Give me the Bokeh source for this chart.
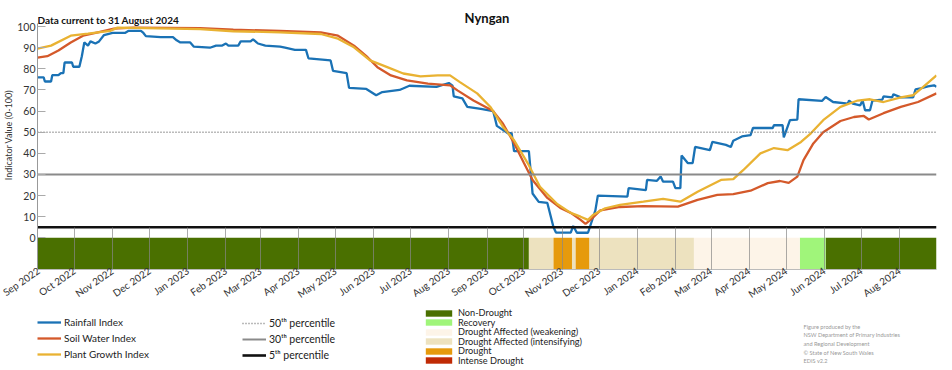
import pandas as pd
from bokeh.plotting import figure
from bokeh.layouts import column
from bokeh.models import (ColumnDataSource, Legend, LegendItem, Label, FixedTicker,
                          MonthsTicker, DatetimeTickFormatter, Range1d)
from bokeh.embed import file_html
from bokeh.resources import INLINE

FONT = "Lato"

# ---------------- data ----------------
rain_dates = [
    "2022-09-01", "2022-09-06", "2022-09-07", "2022-09-12", "2022-09-13", "2022-09-18", "2022-09-20", "2022-09-22", "2022-09-23", "2022-09-29",
    "2022-09-30", "2022-10-05", "2022-10-07", "2022-10-09", "2022-10-12", "2022-10-14", "2022-10-18", "2022-10-21", "2022-10-25", "2022-11-01",
    "2022-11-11", "2022-11-14", "2022-11-24", "2022-11-26", "2022-11-28", "2022-12-10", "2022-12-20", "2022-12-23", "2022-12-26", "2023-01-03",
    "2023-01-06", "2023-01-19", "2023-01-24", "2023-01-29", "2023-02-01", "2023-02-03", "2023-02-11", "2023-02-13", "2023-02-21", "2023-02-23",
    "2023-02-27", "2023-03-05", "2023-03-17", "2023-03-21", "2023-03-29", "2023-04-07", "2023-04-09", "2023-04-27", "2023-04-29", "2023-05-10",
    "2023-05-12", "2023-05-26", "2023-06-03", "2023-06-08", "2023-06-22", "2023-06-30", "2023-07-22", "2023-08-01", "2023-08-04", "2023-08-05",
    "2023-08-12", "2023-08-16", "2023-08-27", "2023-09-06", "2023-09-09", "2023-09-18", "2023-09-21", "2023-09-23", "2023-10-05", "2023-10-08",
    "2023-10-13", "2023-10-20", "2023-10-25", "2023-10-27", "2023-11-08", "2023-11-10", "2023-11-13", "2023-11-22", "2023-11-28", "2023-11-30",
    "2023-12-24", "2023-12-25", "2024-01-08", "2024-01-09", "2024-01-17", "2024-01-20", "2024-01-22", "2024-01-30", "2024-02-01", "2024-02-05",
    "2024-02-06", "2024-02-11", "2024-02-15", "2024-02-17", "2024-02-29", "2024-03-02", "2024-03-13", "2024-03-17", "2024-03-19", "2024-03-26",
    "2024-04-02", "2024-04-04", "2024-04-20", "2024-04-21", "2024-04-28", "2024-04-29", "2024-05-04", "2024-05-10", "2024-05-11", "2024-05-30",
    "2024-06-02", "2024-06-08", "2024-06-20", "2024-06-21", "2024-06-24", "2024-06-30", "2024-07-02", "2024-07-04", "2024-07-08", "2024-07-10",
    "2024-07-18", "2024-07-19", "2024-07-26", "2024-07-27", "2024-08-02", "2024-08-12", "2024-08-14", "2024-08-18", "2024-08-24", "2024-08-29",
    "2024-08-31",
]
rain_vals = [
    76, 76, 74, 74, 77, 77, 78, 78, 83, 83,
    81, 81, 86, 92.5, 91, 93, 92, 93, 96, 97,
    97, 98, 98, 97, 95.5, 95, 95, 93.5, 92.5, 92.5,
    90.5, 90, 91, 91, 92, 91, 91, 93, 93, 94,
    92, 91, 90.5, 90, 89, 89, 85, 84, 79, 78,
    71, 70.5, 67.5, 69, 70, 72, 71.5, 73.3, 72, 67,
    66, 62, 61, 60, 53, 49.5, 49.5, 41, 41, 21,
    17, 16.5, 5, 2.5, 2.5, 5.6, 2.4, 2.4, 13, 20,
    19.5, 23.5, 22.6, 27.4, 27, 29, 26.6, 26.6, 23.5, 23.5,
    39, 35.4, 35.4, 43, 41.5, 45.4, 44, 43, 46, 48,
    48.6, 52, 52, 53.3, 53.3, 47.6, 55.7, 56, 65.6, 64.8,
    66.7, 64.3, 63.5, 65, 63.5, 62.7, 65, 60.4, 60.4, 65,
    65.4, 67, 66.5, 68, 66.5, 66.5, 70.3, 70.7, 71.7, 72.2,
    71.5,
]

soil_dates = [
    "2022-09-01", "2022-09-09", "2022-09-18", "2022-09-28", "2022-10-08", "2022-10-20", "2022-11-02", "2022-11-18",
    "2023-01-11", "2023-02-07", "2023-03-17", "2023-04-19", "2023-05-03", "2023-05-16", "2023-05-27", "2023-06-04",
    "2023-06-15", "2023-06-28", "2023-07-15", "2023-08-02", "2023-08-08", "2023-08-21", "2023-09-06", "2023-09-14",
    "2023-09-23", "2023-10-01", "2023-10-08", "2023-10-20", "2023-10-31", "2023-11-08", "2023-11-16", "2023-11-20",
    "2023-11-24", "2023-12-02", "2023-12-18", "2024-01-06", "2024-02-03", "2024-02-19", "2024-03-06", "2024-03-19",
    "2024-04-02", "2024-04-16", "2024-04-26", "2024-05-03", "2024-05-10", "2024-05-15", "2024-05-23", "2024-05-31",
    "2024-06-14", "2024-06-25", "2024-07-03", "2024-07-07", "2024-07-19", "2024-08-02", "2024-08-16", "2024-08-31",
]
soil_vals = [
    85.3, 86, 88.7, 92.5, 95.7, 97.3, 99, 99.5,
    99.3, 98.5, 98, 97.3, 95.7, 91, 85.5, 80.8,
    76.9, 74.5, 73, 72.2, 69.8, 65, 60, 54,
    44.8, 35.4, 27.4, 18.9, 14, 11.8, 8.5, 6.6,
    8.5, 13, 14.6, 15, 14.8, 18, 20.3, 20.7,
    22.3, 25.9, 26.9, 26, 29, 36.8, 44.7, 50,
    55.3, 57.2, 57.7, 56, 59, 62, 64.3, 68.4,
]

plant_dates = [
    "2022-09-01", "2022-09-12", "2022-09-28", "2022-10-12", "2022-10-30", "2022-11-05", "2023-01-11", "2023-02-07",
    "2023-03-17", "2023-04-19", "2023-05-03", "2023-05-16", "2023-05-29", "2023-06-12", "2023-06-25", "2023-07-09",
    "2023-07-23", "2023-08-02", "2023-08-10", "2023-08-24", "2023-09-04", "2023-09-14", "2023-09-23", "2023-10-04",
    "2023-10-14", "2023-10-28", "2023-11-08", "2023-11-16", "2023-11-22", "2023-11-26", "2023-12-06", "2023-12-18",
    "2024-01-06", "2024-01-22", "2024-02-05", "2024-02-19", "2024-03-09", "2024-03-19", "2024-03-27", "2024-04-10",
    "2024-04-21", "2024-05-02", "2024-05-13", "2024-05-21", "2024-05-31", "2024-06-14", "2024-06-28", "2024-07-08",
    "2024-07-19", "2024-08-02", "2024-08-12", "2024-08-20", "2024-08-31",
]
plant_vals = [
    89.6, 91, 95.7, 96.7, 98, 99.5, 98.8, 97.8,
    97.3, 96.5, 94.3, 90.2, 84, 80.8, 77.8, 76.4,
    76.9, 76.9, 73.7, 68.4, 61.8, 52.5, 46.2, 35.4,
    24.2, 16, 11.8, 10, 8.5, 10.8, 14, 15.6,
    17.1, 18.4, 17.1, 21.8, 27.4, 27.8, 32, 40,
    42.5, 41.5, 45.4, 49.5, 55.7, 62, 65, 65.6,
    64.3, 66.5, 67.5, 71.4, 76.9,
]

series_names = ["Rainfall Index", "Soil Water Index", "Plant Growth Index"]
series_colors = ["#1a72b5", "#d4592a", "#e9b232"]

percentile_vals = [50, 30, 5]
percentile_labels = ["50\u1d57\u02b0 percentile", "30\u1d57\u02b0 percentile", "5\u1d57\u02b0 percentile"]

status_start = ["2022-09-01", "2023-10-05", "2023-10-25", "2023-11-09", "2023-11-12",
                "2023-11-23", "2024-02-16", "2024-05-12", "2024-06-02"]
status_end = ["2023-10-05", "2023-10-25", "2023-11-09", "2023-11-12", "2023-11-23",
              "2024-02-16", "2024-05-12", "2024-06-02", "2024-08-31"]
status_cat = ["Non-Drought", "Drought Affected (intensifying)", "Drought", "Drought Affected (intensifying)",
              "Drought", "Drought Affected (intensifying)", "Drought Affected (weakening)", "Recovery", "Non-Drought"]
status_bottom, status_top = -15, 0

categories = ["Non-Drought", "Recovery", "Drought Affected (weakening)",
              "Drought Affected (intensifying)", "Drought", "Intense Drought"]
cat_colors = ["#4a7000", "#a0f57a", "#fdf4e8", "#ede2bf", "#e69a0c", "#c02a05"]

y_ticks = [0, 10, 20, 30, 40, 50, 60, 70, 80, 90, 100]
y_axis_min, y_axis_max = -15, 101.5

title_text = "Nyngan"
subtitle_text = "Data current to 31 August 2024"
credit_lines = ["Figure produced by the", "NSW Department of Primary Industries",
                "and Regional Development", "\u00a9 State of New South Wales", "EDIS v2.2"]

# ---------------- layout constants ----------------
W, H = 952, 370
FL, FR = 37, 16            # frame borders left/right
MAIN_H = 307
LEG_H = H - MAIN_H
FRAME_BOTTOM = 270         # page y of frame bottom
PX_PER_UNIT = 2.12
y_top = status_bottom + FRAME_BOTTOM / PX_PER_UNIT   # frame reaches top of canvas

pct_styles = [dict(line_color="#777777", line_width=1.6, line_dash="1 2"),
              dict(line_color="#8a8a8a", line_width=2.0),
              dict(line_color="#111111", line_width=2.6)]

# ---------------- main chart ----------------
x0 = pd.Timestamp(status_start[0])
x1 = pd.Timestamp(status_end[-1])

p = figure(width=W, height=MAIN_H, x_axis_type="datetime", output_backend="svg",
           toolbar_location=None, x_range=Range1d(x0, x1), y_range=Range1d(status_bottom, y_top),
           min_border_left=FL, min_border_right=FR, min_border_top=0,
           min_border_bottom=MAIN_H - FRAME_BOTTOM)
p.outline_line_color = None
p.grid.visible = False

for cat, col in zip(categories, cat_colors):
    idx = [i for i, c in enumerate(status_cat) if c == cat]
    src = ColumnDataSource(dict(
        left=[pd.Timestamp(status_start[i]) for i in idx],
        right=[pd.Timestamp(status_end[i]) for i in idx],
        bottom=[status_bottom] * len(idx),
        top=[status_top] * len(idx),
    ))
    p.quad(left="left", right="right", bottom="bottom", top="top",
           source=src, fill_color=col, line_color=None)

series_data = [(rain_dates, rain_vals), (soil_dates, soil_vals), (plant_dates, plant_vals)]
for (d, v), col in zip(series_data, series_colors):
    p.line(x=pd.to_datetime(d), y=v, line_color=col, line_width=2.3)

for v, st in zip(percentile_vals, pct_styles):
    p.line(x=[x0, x1], y=[v, v], **st)

p.yaxis.ticker = FixedTicker(ticks=y_ticks)
p.yaxis.bounds = (y_axis_min, y_axis_max)
p.yaxis.axis_label = "Indicator Value (0-100)"
p.yaxis.axis_label_text_font = FONT
p.yaxis.axis_label_text_font_style = "normal"
p.yaxis.axis_label_text_font_size = "9px"
p.yaxis.axis_label_text_color = "#333333"
p.yaxis.axis_label_standoff = 0
p.yaxis.major_label_text_font = FONT
p.yaxis.major_label_text_font_size = "10.5px"
p.yaxis.major_label_text_color = "#333333"
p.yaxis.major_label_standoff = 2
p.yaxis.major_tick_in = 8
p.yaxis.major_tick_out = 0
p.yaxis.major_tick_line_color = "#aaaaaa"
p.yaxis.minor_tick_line_color = None
p.yaxis.axis_line_color = "#999999"

p.xaxis.ticker = MonthsTicker(months=list(range(12)))
p.xaxis.formatter = DatetimeTickFormatter(months="%b %Y", days="%b %Y")
p.xaxis.major_label_orientation = 0.6
p.xaxis.major_label_text_font = FONT
p.xaxis.major_label_text_font_size = "10px"
p.xaxis.major_label_text_color = "#333333"
p.xaxis.major_label_standoff = 0
p.xaxis.major_tick_in = 42
p.xaxis.major_tick_out = 0
p.xaxis.major_tick_line_color = "#888888"
p.xaxis.major_tick_line_alpha = 0.7
p.xaxis.minor_tick_line_color = None
p.xaxis.axis_line_color = "#bbbbbb"

# header texts inside the (tall) frame, above the axis bounds
ms0 = x0.timestamp() * 1000.0
ms1 = x1.timestamp() * 1000.0
p.add_layout(Label(x=(ms0 + ms1) / 2, y=FRAME_BOTTOM - 18.5, x_units="data", y_units="screen",
                   text=title_text, text_align="center", text_baseline="alphabetic", text_font=FONT,
                   text_font_style="bold", text_font_size="13px", text_color="#111111"))
p.add_layout(Label(x=ms0, y=FRAME_BOTTOM - 20.5, x_units="data", y_units="screen",
                   text=subtitle_text, text_align="left", text_baseline="alphabetic", text_font=FONT,
                   text_font_style="bold", text_font_size="10px", text_color="#111111"))

# ---------------- legend strip ----------------
p2 = figure(width=W, height=LEG_H, output_backend="svg", toolbar_location=None,
            x_range=Range1d(0, W - FL - FR), y_range=Range1d(0, LEG_H),
            x_axis_location=None, y_axis_location=None,
            min_border_left=FL, min_border_right=FR, min_border_top=0, min_border_bottom=0)
p2.outline_line_color = None
p2.grid.visible = False

nan = float("nan")
leg_series = [p2.line(x=[nan], y=[nan], line_color=c, line_width=2.3) for c in series_colors]
leg_pct = [p2.line(x=[nan], y=[nan], **st) for st in pct_styles]
leg_cat = [p2.quad(left=[nan], right=[nan], bottom=[nan], top=[nan], fill_color=c, line_color=None)
           for c in cat_colors]


def style_legend(lg, gw, gh, lh, sp, fs):
    lg.background_fill_alpha = 0
    lg.border_line_color = None
    lg.padding = 0
    lg.margin = 0
    lg.spacing = sp
    lg.glyph_width = gw
    lg.glyph_height = gh
    lg.label_height = lh
    lg.label_standoff = 3
    lg.label_text_font = FONT
    lg.label_text_font_size = fs
    lg.label_text_color = "#222222"
    lg.label_text_baseline = "middle"


def page_y(center, h):
    """bottom of a legend box of height h whose centre sits at page row `center`"""
    return H - center - h / 2


leg1 = Legend(items=[LegendItem(label=n, renderers=[r]) for n, r in zip(series_names, leg_series)],
              location=(37 - FL, page_y(338, 44)))
style_legend(leg1, 24, 12, 12, 4, "10px")
p2.add_layout(leg1)

leg2 = Legend(items=[LegendItem(label=n, renderers=[r]) for n, r in zip(percentile_labels, leg_pct)],
              location=(242 - FL, page_y(339, 44)))
style_legend(leg2, 24, 12, 12, 4, "10.5px")
p2.add_layout(leg2)

cat_rows = [312.5, 322, 331.5, 341, 350.5, 360]
for c, r, row in zip(categories, leg_cat, cat_rows):
    lg = Legend(items=[LegendItem(label=c, renderers=[r])], location=(422 - FL, page_y(row, 16)))
    style_legend(lg, 33, 8, 16, 0, "9.2px")
    p2.add_layout(lg)

credit_rows = [326, 334, 343, 351.5, 360]
for t, row in zip(credit_lines, credit_rows):
    p2.add_layout(Label(x=803 - FL, y=H - row, x_units="screen", y_units="screen", text=t,
                        text_align="left", text_baseline="middle", text_font=FONT,
                        text_font_size="5.6px", text_color="#999999"))

layout = column(p, p2, spacing=0)
open("out.html", "w").write(file_html(layout, INLINE))
